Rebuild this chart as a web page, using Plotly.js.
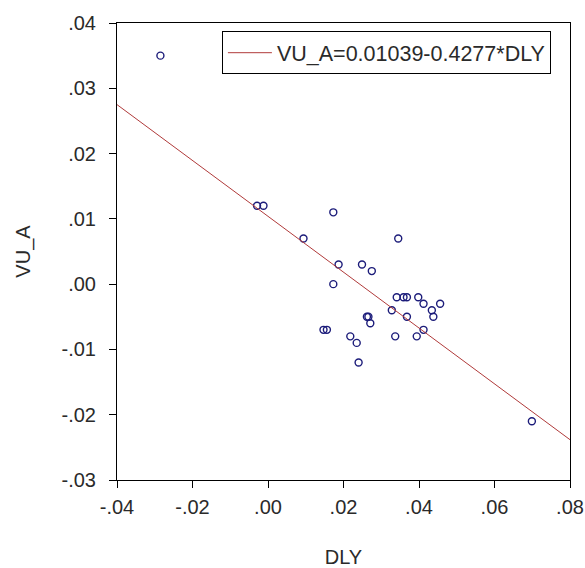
<!DOCTYPE html>
<html>
<head>
<meta charset="utf-8">
<script src="https://cdn.plot.ly/plotly-3.0.1.min.js"></script>
<style>html,body{margin:0;padding:0;background:#fff;}#chart{width:585px;height:568px;}</style>
</head>
<body>
<div id="chart"></div>
<script>
// Scatter data: DLY (x) and VU_A (y)
const dly = [-0.0285, -0.0029, -0.0012, 0.0173, 0.0094, 0.0345, 0.0187, 0.0249, 0.0275, 0.0173,
             0.0341, 0.0359, 0.0368, 0.0398, 0.0412, 0.0456, 0.0328, 0.0434, 0.0368, 0.0438,
             0.0262, 0.0266, 0.0271, 0.0147, 0.0156, 0.0412, 0.0218, 0.0337, 0.0394, 0.0235,
             0.0240, 0.0699];
const vuA = [0.035, 0.012, 0.012, 0.011, 0.007, 0.007, 0.003, 0.003, 0.002, 0.000,
             -0.002, -0.002, -0.002, -0.002, -0.003, -0.003, -0.004, -0.004, -0.005, -0.005,
             -0.005, -0.005, -0.006, -0.007, -0.007, -0.007, -0.008, -0.008, -0.008, -0.009,
             -0.012, -0.021];

// Regression line VU_A = 0.01039 - 0.4277*DLY
const fitIntercept = 0.01039;
const fitSlope = -0.4277;
const fitX = [-0.04, 0.08];
const fitY = fitX.map(x => fitIntercept + fitSlope * x);
const fitLabel = "VU_A=0.01039-0.4277*DLY";

const xTickVals = [-0.04, -0.02, 0.00, 0.02, 0.04, 0.06, 0.08];
const xTickText = ["-.04", "-.02", ".00", ".02", ".04", ".06", ".08"];
const yTickVals = [-0.03, -0.02, -0.01, 0.00, 0.01, 0.02, 0.03, 0.04];
const yTickText = ["-.03", "-.02", "-.01", ".00", ".01", ".02", ".03", ".04"];

const FONT = 'Liberation Sans, Arial, sans-serif';
const txtColor = '#2a2a2a';

const traces = [
  {
    x: dly, y: vuA, type: 'scatter', mode: 'markers', showlegend: false,
    marker: {symbol: 'circle-open', size: 7, color: '#1c1c7a', line: {width: 1.4, color: '#1c1c7a'}},
    hoverinfo: 'skip'
  },
  {
    x: fitX, y: fitY, type: 'scatter', mode: 'lines', name: fitLabel,
    line: {color: '#b03a3a', width: 1}
  }
];

const axisCommon = {
  showline: true, mirror: true, linecolor: '#000', linewidth: 1,
  ticks: 'outside', ticklen: 7, tickcolor: '#000', tickwidth: 1,
  showgrid: false, zeroline: false,
  tickfont: {family: FONT, size: 20, color: txtColor}
};

const layout = {
  width: 585, height: 568,
  margin: {l: 117, r: 15, t: 23, b: 88},
  paper_bgcolor: '#fff', plot_bgcolor: '#fff',
  font: {family: FONT, color: txtColor},
  xaxis: Object.assign({}, axisCommon, {
    range: [-0.04, 0.08], tickvals: xTickVals, ticktext: xTickText,
    ticklabelstandoff: 2,
    title: {text: 'DLY', standoff: 34, font: {family: FONT, size: 20, color: txtColor}}
  }),
  yaxis: Object.assign({}, axisCommon, {
    range: [-0.03, 0.04], tickvals: yTickVals, ticktext: yTickText,
    ticklabelstandoff: 9,
    title: {text: 'VU_A', standoff: 25, font: {family: FONT, size: 20, color: txtColor}}
  }),
  showlegend: true,
  legend: {
    x: 0.2316, y: 0.982, xanchor: 'left', yanchor: 'top',
    bordercolor: '#000', borderwidth: 1, bgcolor: '#fff',
    itemwidth: 44,
    font: {family: FONT, size: 21.5, color: txtColor}
  }
};

Plotly.newPlot('chart', traces, layout, {displayModeBar: false, staticPlot: true});
</script>
</body>
</html>
